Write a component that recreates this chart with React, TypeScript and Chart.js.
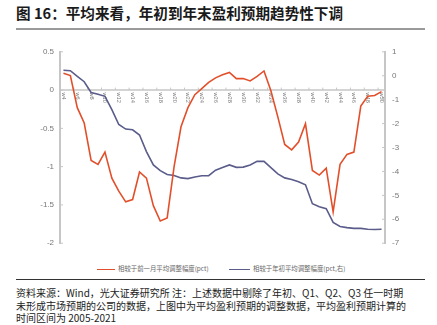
import React, { useEffect, useRef } from "react";
import { Chart, registerables } from "chart.js";

Chart.register(...registerables);

const weeks: string[] = [];
for (let w = 4; w <= 50; w++) weeks.push("w" + w);

const monthAdj = [
  0.22, 0.19, -0.23, -0.43, -0.92, -0.97, -0.81, -1.15, -1.32, -1.46,
  -1.43, -1.07, -1.15, -1.51, -1.71, -1.67, -1.0, -0.48, -0.23, -0.06,
  0.02, 0.1, 0.16, 0.2, 0.23, 0.15, 0.15, 0.12, 0.18, 0.25,
  -0.01, -0.35, -0.71, -0.78, -0.68, -0.44, -1.05, -1.11, -1.02, -1.59,
  -0.97, -0.84, -0.81, -0.21, -0.08, -0.07, -0.02,
];

const ytdAdj = [
  0.23, 0.21, -0.03, -0.25, -0.7, -0.77, -0.86, -1.42, -2.04, -2.23,
  -2.26, -2.48, -3.17, -3.73, -3.97, -4.13, -4.17, -4.27, -4.3, -4.23,
  -4.18, -4.18, -3.95, -3.84, -3.73, -3.83, -3.82, -3.73, -3.58, -3.58,
  -3.84, -4.1, -4.27, -4.34, -4.43, -4.56, -5.35, -5.48, -5.56, -6.13,
  -6.3, -6.35, -6.38, -6.38, -6.42, -6.43, -6.42,
];

const seriesNames = ["相较于前一月平均调整幅度(pct)", "相较于年初平均调整幅度(pct,右)"];
const RED = "#E2502B";
const BLUE = "#5A5C8A";
const AXIS = "#c6c6c6";

const customAxes = {
  id: "customAxes",
  beforeDatasetsDraw(chart: any) {
    const { ctx, chartArea, scales } = chart;
    const x = scales.x;
    const y = scales.y;
    const y1 = scales.y1;
    const y0 = y.getPixelForValue(0);
    ctx.save();
    ctx.strokeStyle = AXIS;
    ctx.lineWidth = 1.5;
    ctx.beginPath();
    ctx.moveTo(chartArea.left, y0);
    ctx.lineTo(chartArea.right, y0);
    ctx.stroke();
    const n = weeks.length;
    const step = (chartArea.right - chartArea.left) / n;
    ctx.lineWidth = 1;
    ctx.beginPath();
    for (let i = 0; i <= n; i += 2) {
      const px = chartArea.left + i * step;
      ctx.moveTo(px, y0);
      ctx.lineTo(px, y0 - 2.5);
    }
    ctx.stroke();
    ctx.beginPath();
    y.ticks.forEach((t: any) => {
      const py = y.getPixelForValue(t.value);
      ctx.moveTo(chartArea.left, py);
      ctx.lineTo(chartArea.left + 3, py);
    });
    y1.ticks.forEach((t: any) => {
      const py = y1.getPixelForValue(t.value);
      ctx.moveTo(chartArea.right - 3, py);
      ctx.lineTo(chartArea.right, py);
    });
    ctx.stroke();
    ctx.fillStyle = "#777";
    ctx.font = "5.6px 'Liberation Sans', Arial, sans-serif";
    ctx.textAlign = "left";
    ctx.textBaseline = "middle";
    for (let i = 0; i < n; i += 2) {
      const px = x.getPixelForValue(i);
      ctx.save();
      ctx.translate(px, y0 + 2.5);
      ctx.rotate(Math.PI / 2);
      ctx.fillText(weeks[i], 0, 0);
      ctx.restore();
    }
    ctx.restore();
  },
};

function LineChart() {
  const ref = useRef<HTMLCanvasElement | null>(null);
  useEffect(() => {
    if (!ref.current) return;
    const chart = new Chart(ref.current, {
      type: "line",
      data: {
        labels: weeks,
        datasets: [
          {
            label: seriesNames[0],
            data: monthAdj,
            borderColor: RED,
            backgroundColor: RED,
            borderWidth: 1.6,
            pointRadius: 0,
            tension: 0,
            yAxisID: "y",
          },
          {
            label: seriesNames[1],
            data: ytdAdj,
            borderColor: BLUE,
            backgroundColor: BLUE,
            borderWidth: 1.6,
            pointRadius: 0,
            tension: 0,
            yAxisID: "y1",
          },
        ],
      },
      options: {
        animation: false,
        responsive: false,
        maintainAspectRatio: false,
        layout: { padding: { top: 7, bottom: 3, left: 0, right: 0 } },
        plugins: { legend: { display: false }, tooltip: { enabled: false } },
        scales: {
          x: { display: false, offset: true },
          y: {
            position: "left",
            min: -2,
            max: 0.5,
            ticks: {
              stepSize: 0.5,
              color: "#777",
              padding: 6,
              font: { size: 8, family: "'Liberation Sans', Arial, sans-serif" },
              callback: (v: any) => String(Math.round(Number(v) * 10) / 10),
            },
            grid: { display: false, drawTicks: false },
            border: { display: true, color: AXIS, width: 2 },
            afterFit: (s: any) => {
              s.width = 60;
            },
          },
          y1: {
            position: "right",
            min: -7,
            max: 1,
            ticks: {
              stepSize: 1,
              color: "#777",
              padding: 7,
              font: { size: 8, family: "'Liberation Sans', Arial, sans-serif" },
              callback: (v: any) => String(Math.round(Number(v))),
            },
            grid: { display: false, drawTicks: false },
            border: { display: true, color: AXIS, width: 2 },
            afterFit: (s: any) => {
              s.width = 52;
            },
          },
        },
      },
      plugins: [customAxes],
    } as any);
    return () => chart.destroy();
  }, []);
  return (
    <canvas
      ref={ref}
      width={437}
      height={215}
      style={{ position: "absolute", left: 0, top: 40, width: 437, height: 215 }}
    />
  );
}

export default function App() {
  const cjk = "'Noto Sans CJK SC', 'Noto Sans', sans-serif";
  const legendText: React.CSSProperties = {
    position: "absolute",
    top: 265,
    fontSize: 6.4,
    lineHeight: "8px",
    color: "#666",
    fontFamily: cjk,
    whiteSpace: "nowrap",
  };
  const footLine: React.CSSProperties = {
    position: "absolute",
    left: 16,
    fontSize: 10,
    lineHeight: "12px",
    color: "#222",
    fontFamily: cjk,
    whiteSpace: "nowrap",
  };
  return (
    <div
      style={{
        position: "fixed",
        left: 0,
        top: 0,
        width: 437,
        height: 325,
        background: "#fff",
        overflow: "hidden",
      }}
    >
      <div
        style={{
          position: "absolute",
          left: 16,
          top: 4,
          fontSize: 14.6,
          lineHeight: "18px",
          fontWeight: 700,
          color: "#1a1a1a",
          fontFamily: cjk,
          whiteSpace: "nowrap",
        }}
      >
        图 16：平均来看，年初到年末盈利预期趋势性下调
      </div>
      <div
        style={{
          position: "absolute",
          left: 16,
          top: 28,
          width: 409,
          height: 2,
          background: "#9a9a9a",
        }}
      />
      <LineChart />
      <div style={{ position: "absolute", left: 97, top: 268.5, width: 18, height: 1.6, background: RED }} />
      <div style={{ ...legendText, left: 118 }}>{seriesNames[0]}</div>
      <div style={{ position: "absolute", left: 229, top: 268.5, width: 21, height: 1.6, background: BLUE }} />
      <div style={{ ...legendText, left: 253 }}>{seriesNames[1]}</div>
      <div
        style={{
          position: "absolute",
          left: 16,
          top: 279,
          width: 409,
          height: 1,
          background: "#333",
        }}
      />
      <div style={{ ...footLine, top: 287 }}>
        资料来源：Wind，光大证券研究所 注：上述数据中剔除了年初、Q1、Q2、Q3 任一时期
      </div>
      <div style={{ ...footLine, top: 299.5 }}>
        未形成市场预期的公司的数据，上图中为平均盈利预期的调整数据，平均盈利预期计算的
      </div>
      <div style={{ ...footLine, top: 311.5 }}>时间区间为 2005-2021</div>
    </div>
  );
}
